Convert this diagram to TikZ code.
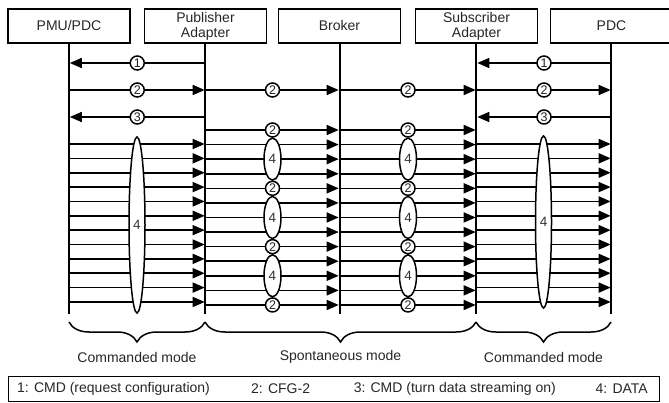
\documentclass[tikz,border=0pt]{standalone}
\usepackage{fontspec}
\setmainfont{Liberation Sans}
\usetikzlibrary{arrows.meta,shapes.geometric,decorations.pathreplacing}
\begin{document}
\begin{tikzpicture}[x=1pt,y=-1pt,
  ent/.style={draw,line width=1.3pt,minimum width=122pt,minimum height=34pt,inner sep=0pt,
    font=\fontsize{14}{16}\selectfont,align=center,text=black!85},
  life/.style={line width=2pt},
  msg/.style={line width=1.6pt,-{Triangle[length=12pt,width=10pt]},shorten >=0.8pt},
  num/.style={circle,draw,fill=white,line width=1.5pt,minimum size=14pt,inner sep=0pt,
    font=\fontsize{12.5}{12.5}\selectfont,text=black!85},
  ell/.style={ellipse,draw,fill=white,line width=1.5pt,inner sep=0pt,
    font=\fontsize{13.5}{13.5}\selectfont,text=black!80},
  brc/.style={line width=1.5pt,decorate,decoration={brace,mirror,amplitude=20pt}},
  lbl/.style={font=\fontsize{14}{16}\selectfont,text=black!85},
  leg/.style={font=\fontsize{14}{16}\selectfont,text=black!85,inner sep=0pt}
]
\clip (0,0) rectangle (669,403);
% entities
\node[ent] (pmu) at (69,26) {PMU/PDC};
\node[ent] (pub) at (205.5,26) {Publisher\\[-1pt]Adapter};
\node[ent] (brk) at (339.5,26) {Broker};
\node[ent] (sub) at (476.5,26) {Subscriber\\[-1pt]Adapter};
\node[ent] (pdc) at (611.5,26) {PDC};
% lifeline ends
\foreach \n/\x in {pmu/69,pub/205,brk/340,sub/476,pdc/611}{
  \coordinate (\n T) at (\x,43);
  \coordinate (\n B) at (\x,314);
}
\foreach \n in {pmu,pub,brk,sub,pdc}{\draw[life] (\n T) -- (\n B);}
% top rows
\draw[msg] (pub |- 0,63) -- (pmu |- 0,63) node[num,midway]{1};
\draw[msg] (pdc |- 0,63) -- (sub |- 0,63) node[num,midway]{1};
\draw[msg] (pmu |- 0,90) -- (pub |- 0,90) node[num,midway]{2};
\draw[msg] (pub |- 0,90) -- (brk |- 0,90) node[num,midway]{2};
\draw[msg] (brk |- 0,90) -- (sub |- 0,90) node[num,midway]{2};
\draw[msg] (sub |- 0,90) -- (pdc |- 0,90) node[num,midway]{2};
\draw[msg] (pub |- 0,117) -- (pmu |- 0,117) node[num,midway]{3};
\draw[msg] (pdc |- 0,117) -- (sub |- 0,117) node[num,midway]{3};
% commanded mode data
\foreach \k in {0,...,11}{
  \pgfmathsetmacro{\yy}{144+\k*14.36}
  \draw[msg] (pmu |- 0,\yy) -- (pub |- 0,\yy);
  \draw[msg] (sub |- 0,\yy) -- (pdc |- 0,\yy);
}
% spontaneous mode
\foreach \k in {0,...,12}{
  \pgfmathsetmacro{\yy}{130+\k*14.58}
  \draw[msg] (pub |- 0,\yy) -- (brk |- 0,\yy);
  \draw[msg] (brk |- 0,\yy) -- (sub |- 0,\yy);
}
\node[ell,minimum width=16pt,minimum height=176pt] (e1) at (137,225) {4};
\node[ell,minimum width=16pt,minimum height=172pt] (e2) at (543.5,222) {4};
\foreach \k/\nm in {0/a,4/b,8/c,12/d}{
  \pgfmathsetmacro{\yy}{130+\k*14.58}
  \node[num] (p\nm) at (272.5,\yy) {2};
  \node[num] (q\nm) at (408,\yy) {2};
}
\foreach \k/\nm in {2/a,6/b,10/c}{
  \pgfmathsetmacro{\yy}{130+\k*14.58}
  \node[ell,minimum width=17pt,minimum height=42pt] (r\nm) at (272.5,\yy) {4};
  \node[ell,minimum width=17pt,minimum height=42pt] (s\nm) at (408,\yy) {4};
}
% braces
\coordinate (b1) at (69,322);
\coordinate (b2) at (205,322);
\coordinate (b3) at (476,322);
\coordinate (b4) at (611,322);
\draw[brc] (b1) -- (b2);
\draw[brc] (b2) -- (b3);
\draw[brc] (b3) -- (b4);
\node[lbl] (m1) at (137,357) {Commanded mode};
\node[lbl] (m2) at (340.5,357) {Spontaneous mode};
\node[lbl] (m3) at (543.5,357) {Commanded mode};
% legend
\node[draw,line width=1pt,minimum width=651pt,minimum height=25pt,inner sep=0pt] (legend) at (333.5,388.5) {};
\node[leg,anchor=west] (l1) at (17,389) {1: CMD (request configuration)};
\node[leg,anchor=west] (l2) at (251,389) {2: CFG-2};
\node[leg,anchor=east] (l3) at (556,389) {3: CMD (turn data streaming on)};
\node[leg,anchor=east] (l4) at (648,389) {4: DATA};
\end{tikzpicture}
\end{document}
